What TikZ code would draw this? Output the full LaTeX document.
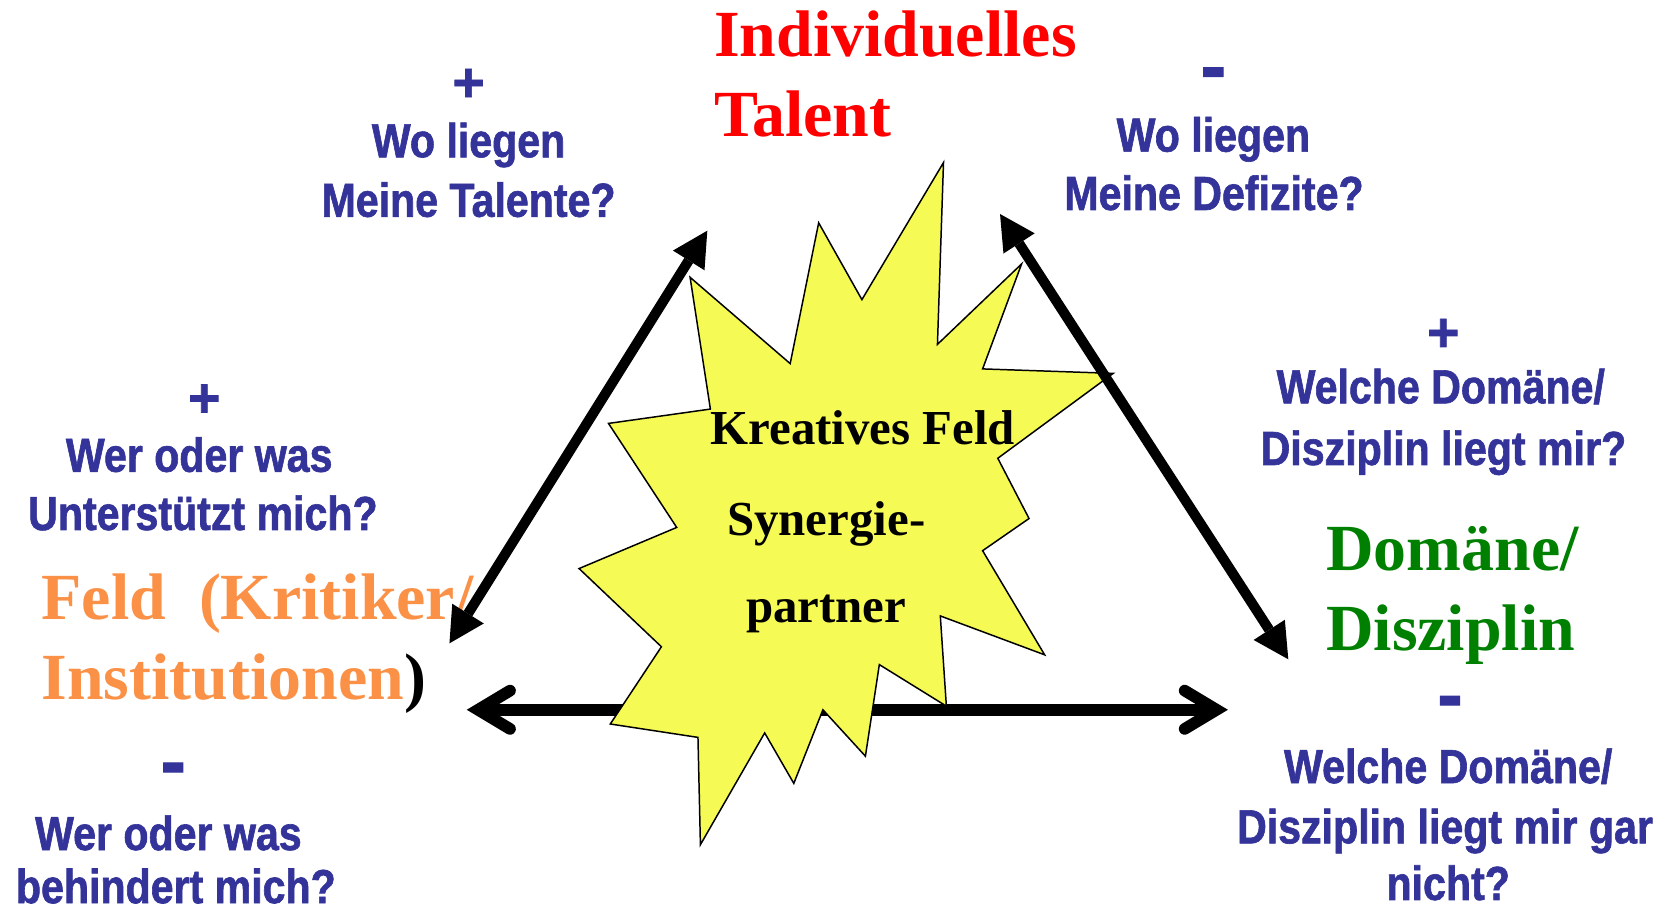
\documentclass[tikz,border=0pt]{standalone}
\usepackage{fontspec}
\setmainfont{Liberation Serif}
\newfontfamily\condfont[FakeStretch=0.86, BoldFeatures={FakeBold=1.3}]{Liberation Sans}
\newfontfamily\signfont[BoldFeatures={FakeBold=1.3}]{Liberation Sans}
\usetikzlibrary{arrows.meta}
\definecolor{qblue}{RGB}{51,51,153}
\definecolor{tred}{RGB}{255,0,0}
\definecolor{dgreen}{RGB}{0,128,0}
\definecolor{forange}{RGB}{250,145,70}
\definecolor{staryellow}{RGB}{246,250,84}
\begin{document}
\begin{tikzpicture}[x=1pt,y=-1pt,
  q/.style={font=\condfont\bfseries\fontsize{45}{50}\selectfont, text=qblue, inner sep=0pt, anchor=base},
  plussign/.style={font=\signfont\bfseries\fontsize{52}{60}\selectfont, text=qblue, inner sep=0pt, anchor=base},
  minussign/.style={font=\signfont\bfseries\fontsize{72}{80}\selectfont, text=qblue, inner sep=0pt, anchor=base},
  big/.style={font=\bfseries\fontsize{62}{70}\selectfont, inner sep=0pt, anchor=base west},
  startext/.style={font=\bfseries\fontsize{46}{50}\selectfont, inner sep=0pt, anchor=base},
  dbl/.style={line width=9.5pt, {Triangle[length=33pt,width=35pt,line width=0pt]}-{Triangle[length=33pt,width=35pt,line width=0pt]}},
  chev/.style={line width=11pt, line cap=round, line join=miter},
  starshape/.style={fill=staryellow, draw=black, line width=1.4pt, line join=miter},
]
\useasboundingbox (0,0) rectangle (1568,855);

% horizontal double arrow (behind the star)
\coordinate (hl) at (450,668);
\coordinate (hr) at (1145,668);
\coordinate (hla) at (480,650);
\coordinate (hlb) at (480,686);
\coordinate (hra) at (1115,650);
\coordinate (hrb) at (1115,686);
\draw[line width=11pt] (hl) -- (hr);
\draw[chev] (hla) -- (hl) -- (hlb);
\draw[chev] (hra) -- (hr) -- (hrb);

% star
\draw[starshape] (888,153) -- (882.3,324.1) -- (961.5,248.4) -- (924.8,347.2)
  -- (1047.7,351.4) -- (939.1,431.3) -- (968.5,488.0) -- (924.8,518.3)
  -- (983.2,616.3) -- (885.0,579.7) -- (890.7,664.6) -- (827.6,625.5)
  -- (814.5,711.7) -- (774.5,668.0) -- (747.1,737.3) -- (719.7,689.8)
  -- (659.2,795.0) -- (656.9,694.0) -- (574.4,681.4) -- (622.5,608.7)
  -- (545.0,535.1) -- (636.9,496.4) -- (572.7,398.5) -- (668.6,385.0)
  -- (649.5,261.0) -- (743.7,342.2) -- (770.5,209.7) -- (811.2,282.0) -- cycle;

% star text
\node[startext] (kf) at (812,418.7) {Kreatives Feld};
\node[startext] (syn) at (777.6,503.6) {Synergie-};
\node[startext] (par) at (777.5,586) {partner};

% red title
\node[big, text=tred] (ind) at (672,53.5) {Individuelles};
\node[big, text=tred] (tal) at (672,128.6) {Talent};

% top left questions
\node[plussign] (tlp) at (441,95.4) {+};
\node[q] (tl1) at (441,148) {Wo liegen};
\node[q] (tl2) at (441,204) {Meine Talente?};

% top right questions
\node[minussign] (trm) at (1142,86.5) {-};
\node[q] (tr1) at (1142,142.7) {Wo liegen};
\node[q] (tr2) at (1142.6,197.6) {Meine Defizite?};

% right questions
\node[plussign] (rp) at (1358.4,330.6) {+};
\node[q] (r1) at (1356,379.6) {Welche Domäne/};
\node[q] (r2) at (1358.5,437.6) {Disziplin liegt mir?};

% green
\node[big, text=dgreen] (dom) at (1248,536.5) {Domäne/};
\node[big, text=dgreen] (dis) at (1248,611.8) {Disziplin};

% bottom right questions
\node[minussign] (brm) at (1364.7,678) {-};
\node[q] (br1) at (1363,737) {Welche Domäne/};
\node[q] (br2) at (1360,793.7) {Disziplin liegt mir gar};
\node[q, text depth=0pt] (br3) at (1363,847) {nicht?};

% left questions
\node[plussign] (lp) at (192.3,392.4) {+};
\node[q] (l1) at (187.5,444) {Wer oder was};
\node[q] (l2) at (191,498.8) {Unterstützt mich?};

% orange
\node[big, text=forange] (feld) at (39,583.5) {Feld\ \ (Kritiker/};
\node[big, text=forange] (inst) at (39,658.8) {Institutionen\textcolor{black}{)}};

% bottom left questions
\node[minussign] (blm) at (163.1,741) {-};
\node[q] (bl1) at (158.5,800) {Wer oder was};
\node[q, text depth=0pt] (bl2) at (165.5,850) {behindert mich?};

% diagonal arrows
\coordinate (a1) at (423,605.5);
\coordinate (a2) at (665.7,217.1);
\draw[dbl] (a1) -- (a2);
\coordinate (b1) at (941.2,201.4);
\coordinate (b2) at (1212.5,620.5);
\draw[dbl] (b1) -- (b2);
\end{tikzpicture}
\end{document}
